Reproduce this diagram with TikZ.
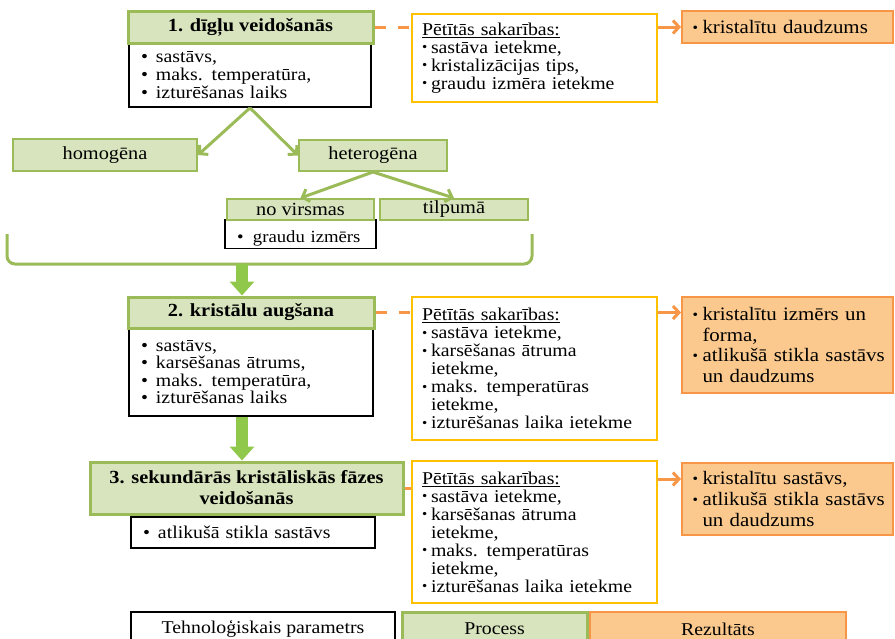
\documentclass[tikz,border=0pt]{standalone}
\usepackage{fontspec}
\setmainfont{Liberation Serif}[FakeStretch=1.1]
\usepackage{graphicx}
\usetikzlibrary{arrows.meta}
\definecolor{grnline}{HTML}{9BBB59}
\definecolor{grnfill}{HTML}{D7E4BD}
\definecolor{arrgrn}{HTML}{8FC84A}
\definecolor{gold}{HTML}{FFC000}
\definecolor{orng}{HTML}{F79646}
\definecolor{rfill}{HTML}{FBC98D}
\newcommand{\fsz}[2]{\fontsize{#1}{#2}\selectfont}
\newcommand{\bb}{\makebox[15pt][l]{•}}
\newcommand{\pbul}{\makebox[9pt][l]{\raisebox{1.5pt}{\scalebox{0.75}{•}}}}
\newcommand{\pind}{\hspace*{9pt}}
\newcommand{\rbul}{\hspace*{5pt}\makebox[10pt][l]{\raisebox{1.5pt}{\scalebox{0.75}{•}}}}
\newcommand{\rind}{\hspace*{15pt}}
\tikzset{
  hdr/.style={draw=grnline, line width=3pt, fill=grnfill, font=\fsz{18.5}{21}\bfseries, align=center, inner sep=0pt},
  gbox/.style={draw=grnline, line width=2pt, fill=grnfill, font=\fsz{18.5}{19}, inner sep=0pt},
  body/.style={draw=black, line width=1.8pt, fill=white, font=\fsz{18}{17.6}, align=left, inner xsep=12pt, inner ysep=0pt},
  pbox/.style={draw=gold, line width=2pt, fill=white, font=\fsz{18}{18}, align=left, inner xsep=10pt, inner ysep=0pt},
  rbox/.style={draw=orng, line width=2pt, fill=rfill, font=\fsz{19}{20.6}, align=left, inner xsep=5.5pt, inner ysep=0pt},
  conn/.style={draw=grnline, line width=3pt, -{Straight Barb[length=6pt,width=13pt]}},
  dashline/.style={draw=orng, line width=3pt, dash pattern=on 11pt off 12pt},
  resarr/.style={draw=orng, line width=3pt, -{Straight Barb[length=6pt,width=13pt]}},
  blockarr/.style={draw=arrgrn, line width=12pt, -{Triangle[width=24pt,length=14pt]}},
  brace/.style={draw=grnline, line width=3pt, rounded corners=8pt},
}
\begin{document}
\begin{tikzpicture}[x=1pt,y=-1pt]
\useasboundingbox (0,0) rectangle (895,638);

% ---- stage 1
\node[body, minimum width=242, minimum height=64, text width=218] (b1) at (250,75)
  {\bb sastāvs,\\ \bb maks. temperatūra,\\ \bb izturēšanas laiks};
\node[hdr, minimum width=245, minimum height=32] (h1) at (250.5,27) {1. dīgļu veidošanās};
\node[pbox, minimum width=245, minimum height=88, text width=225] (p1) at (534.5,58)
  {\underline{Pētītās sakarības:}\\ \pbul sastāva ietekme,\\ \pbul kristalizācijas tips,\\ \pbul graudu izmēra ietekme};
\node[rbox, minimum width=211, minimum height=32, text width=200] (r1) at (787.5,27)
  {\rbul kristalītu daudzums};
\draw[dashline] (h1.east) -- (h1.east -| p1.west);
\draw[resarr] (p1.east |- r1.west) -- (r1.west);

% ---- nucleation types
\node[gbox, minimum width=184, minimum height=32] (hom) at (105,155) {homogēna};
\node[gbox, minimum width=148, minimum height=31] (het) at (373,155.5) {heterogēna};
\node[draw=black, line width=1.8pt, fill=white, minimum width=151, minimum height=29, text width=127,
  inner xsep=12pt, inner ysep=0pt, align=left, font=\fsz{17}{17}, text depth=0pt] (gr) at (300.5,234)
  {\raisebox{-5pt}{\makebox[16pt][l]{•}graudu izmērs}};
\node[gbox, minimum width=147, minimum height=21] (nv) at (300.5,209.5) {no virsmas};
\node[gbox, minimum width=148, minimum height=21] (tp) at (454,209.5) {tilpumā};
\draw[conn] (b1.south) -- (hom.east);
\draw[conn] (b1.south) -- (het.west);
\draw[conn] (het.south) -- (nv.north);
\draw[conn] (het.south) -- (tp.north);

% ---- brace
\coordinate (brl) at (7,234);
\coordinate (brr) at (532,234);
\coordinate (bb) at (242,264);
\draw[brace] (brl) -- (7,264) -- (532,264) -- (brr);

% ---- stage 2
\node[body, minimum width=244, minimum height=88, text width=220] (b2) at (251,372)
  {\bb sastāvs,\\ \bb karsēšanas ātrums,\\ \bb maks. temperatūra,\\ \bb izturēšanas laiks};
\node[hdr, minimum width=246, minimum height=31] (h2) at (251,312.5) {2. kristālu augšana};
\node[pbox, minimum width=245, minimum height=143, text width=225] (p2) at (534.5,368.5)
  {\underline{Pētītās sakarības:}\\ \pbul sastāva ietekme,\\ \pbul karsēšanas ātruma\\ \pind ietekme,\\ \pbul maks. temperatūras\\ \pind ietekme,\\ \pbul izturēšanas laika ietekme};
\node[rbox, minimum width=211, minimum height=96, text width=200] (r2) at (787.5,345)
  {\rbul kristalītu izmērs un\\ \rind forma,\\ \rbul atlikušā stikla sastāvs\\ \rind un daudzums};
\draw[dashline] (h2.east) -- (h2.east -| p2.west);
\draw[resarr] (p2.east |- h2.east) -- (h2.east -| r2.west);
\draw[blockarr] (bb) -- (bb |- h2.north);

% ---- stage 3
\node[hdr, minimum width=313, minimum height=52] (h3) at (246.5,488)
  {3. sekundārās kristāliskās fāzes\\ veidošanās};
\node[body, minimum width=244, minimum height=31, text width=220] (b3) at (253,532.5)
  {\bb atlikušā stikla sastāvs};
\node[pbox, minimum width=245, minimum height=142, text width=225] (p3) at (534.5,532)
  {\underline{Pētītās sakarības:}\\ \pbul sastāva ietekme,\\ \pbul karsēšanas ātruma\\ \pind ietekme,\\ \pbul maks. temperatūras\\ \pind ietekme,\\ \pbul izturēšanas laika ietekme};
\node[rbox, minimum width=211, minimum height=72, text width=200] (r3) at (787.5,499)
  {\rbul kristalītu sastāvs,\\ \rbul atlikušā stikla sastāvs\\ \rind un daudzums};
\coordinate (a3) at (657,479);
\draw[dashline] (h3.east) -- (h3.east -| p3.west);
\draw[resarr] (p3.east |- a3) -- (r3.west |- a3);
\draw[blockarr] (b2.south -| bb) -- (h3.north -| bb);

% ---- legend
\node[draw=black, line width=1.8pt, fill=white, minimum width=264, minimum height=34, inner sep=0pt,
  font=\fsz{18}{18}] (lg1) at (263,629) {Tehnoloģiskais parametrs};
\node[gbox, line width=3pt, minimum width=185, minimum height=34, font=\fsz{18}{18}] (lg2) at (494.5,629) {Process};
\node[rbox, minimum width=256, minimum height=34, font=\fsz{18}{18}, align=center] (lg3) at (718,629) {Rezultāts};
\end{tikzpicture}
\end{document}
